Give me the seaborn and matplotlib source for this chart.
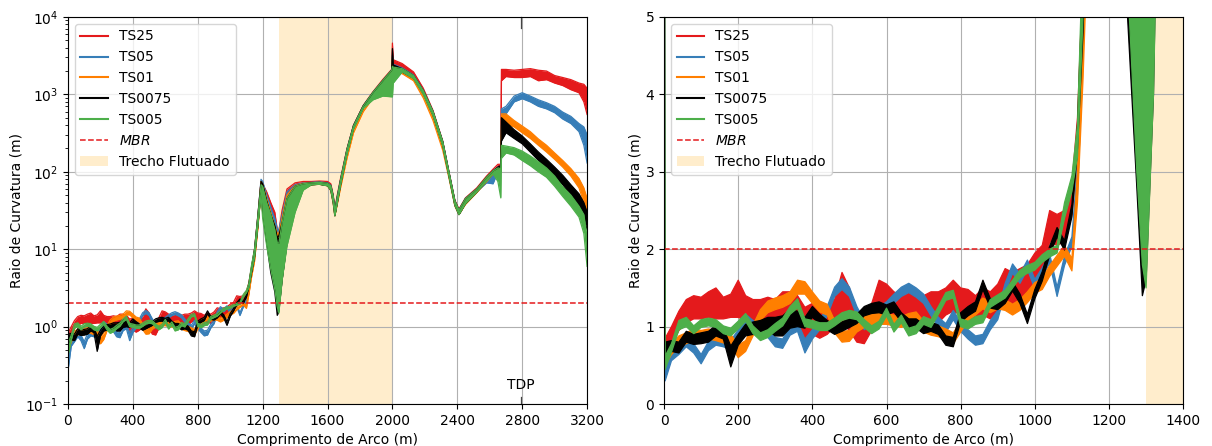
import matplotlib
matplotlib.use("Agg")
import matplotlib.pyplot as plt
from matplotlib.lines import Line2D
from matplotlib.patches import Patch
import numpy as np
import pandas as pd
import seaborn as sns

# ---------------- data ----------------
SERIES = ["TS25", "TS05", "TS01", "TS0075", "TS005"]
COLORS = ["#e41a1c", "#377eb8", "#ff7f00", "#000000", "#4daf4a"]

# arc-length positions, near part (0-1100 m)
X_NEAR = [0, 3] + list(range(20, 1101, 20))
# arc-length positions, far part (1115-3200 m)
X_FAR = [1115, 1130, 1150, 1170, 1190, 1200, 1225, 1250, 1275, 1290,
         1300, 1320, 1350, 1400, 1450, 1500, 1550, 1600, 1620, 1635,
         1645, 1660, 1680, 1720, 1760, 1820, 1880, 1940, 1995, 2000,
         2005, 2060, 2130, 2190, 2250, 2310, 2350, 2385, 2410, 2450,
         2520, 2580, 2620, 2650, 2668, 2672, 2700, 2750, 2800, 2850,
         2900, 2950, 3000, 3050, 3100, 3150, 3180, 3200]

# lower / upper envelope of each (noisy) curve, in metres
TS25_NEAR_LO = [0.6, 0.6, 0.75, 0.95, 1.05, 1.1, 1.1, 1.12, 1.1, 1.1, 1.12, 1.12, 1.08, 1.05, 1.05, 1.1, 1.05, 1.15, 1.15, 1.1,
                0.8, 0.9, 0.85, 0.9, 1.0, 1.05, 0.95, 0.8, 0.78, 0.95, 1.1, 1.1, 1.05, 1.1, 1.1, 1.1, 1.05, 1.1, 1.05, 1.15,
                1.2, 1.15, 1.1, 1.05, 1.15, 1.1, 1.2, 1.35, 1.3, 1.35, 1.35, 1.5, 1.6, 2.1, 2.05, 2.1, 2.45]
TS25_NEAR_HI = [0.8, 0.85, 1.0, 1.2, 1.35, 1.4, 1.38, 1.45, 1.5, 1.38, 1.42, 1.6, 1.4, 1.35, 1.35, 1.38, 1.35, 1.45, 1.45, 1.4,
                1.25, 1.3, 1.2, 1.25, 1.35, 1.7, 1.5, 1.1, 1.05, 1.3, 1.6, 1.55, 1.45, 1.4, 1.45, 1.45, 1.4, 1.45, 1.45, 1.5,
                1.6, 1.5, 1.48, 1.4, 1.5, 1.45, 1.55, 1.75, 1.7, 1.75, 1.8, 1.95, 2.05, 2.5, 2.45, 2.5, 2.85]
TS25_FAR_LO = [3.2, 4.8, 8, 20, 55, 40, 22, 14, 11, 10, 10, 12, 25, 50, 68, 70, 71, 69, 62, 42,
               28, 41, 70, 180, 370, 680, 1020, 1450, 1950, 2400, 2500, 2250, 1800, 1080, 560, 225, 88, 38, 29, 40,
               56, 78, 97, 105, 105, 1500, 1700, 1650, 1650, 1700, 1500, 1550, 1400, 1300, 1150, 1050, 800, 550]
TS25_FAR_HI = [3.7, 5.6, 10, 27, 75, 70, 55, 40, 30, 18, 17, 32, 60, 72, 75, 75, 76, 75, 70, 50,
               33, 50, 82, 200, 400, 720, 1080, 1550, 2100, 4600, 2800, 2500, 1950, 1200, 620, 250, 97, 43, 33, 46,
               62, 88, 108, 125, 125, 2100, 2100, 2050, 2100, 2150, 2050, 2000, 1750, 1650, 1550, 1400, 1350, 1200]

TS05_NEAR_LO = [0.3, 0.3, 0.56, 0.64, 0.74, 0.66, 0.52, 0.69, 0.76, 0.74, 0.7, 0.84, 1.04, 0.96, 0.89, 0.86, 0.74, 0.72, 0.89, 0.94,
                0.66, 0.84, 0.96, 1.14, 1.39, 1.48, 1.39, 1.14, 0.96, 1.04, 1.14, 1.2, 1.3, 1.39, 1.44, 1.38, 1.3, 1.14, 1.0, 0.92,
                1.09, 0.94, 0.84, 0.76, 0.78, 0.96, 1.09, 1.44, 1.69, 1.56, 1.74, 1.49, 1.64, 1.82, 1.39, 1.79, 2.04]
TS05_NEAR_HI = [0.5, 0.5, 0.68, 0.76, 0.86, 0.78, 0.64, 0.81, 0.88, 0.86, 0.82, 0.96, 1.16, 1.08, 1.01, 0.98, 0.86, 0.84, 1.01, 1.06,
                0.84, 0.96, 1.08, 1.26, 1.51, 1.62, 1.51, 1.26, 1.08, 1.16, 1.26, 1.32, 1.42, 1.51, 1.56, 1.5, 1.42, 1.26, 1.12, 1.04,
                1.21, 1.06, 0.96, 0.88, 0.9, 1.08, 1.21, 1.56, 1.81, 1.68, 1.86, 1.61, 1.76, 1.94, 1.51, 1.91, 2.16]
TS05_FAR_LO = [2.7, 4.5, 7.5, 20, 60, 35, 18, 9, 6, 5, 6, 8, 18, 40, 62, 69, 70, 67, 59, 41,
               28, 40, 66, 170, 360, 660, 990, 1400, 1900, 2000, 2150, 1950, 1620, 1030, 540, 220, 85, 37, 28, 39,
               55, 72, 70, 100, 105, 400, 560, 800, 880, 800, 700, 650, 580, 480, 420, 330, 220, 130]
TS05_FAR_HI = [3.1, 5.2, 9.5, 26, 80, 75, 50, 35, 25, 18, 18, 28, 55, 68, 72, 73, 74, 72, 67, 49,
               32, 48, 78, 195, 395, 710, 1060, 1500, 2050, 3200, 2450, 2200, 1780, 1130, 600, 245, 95, 42, 32, 45,
               60, 80, 103, 115, 120, 650, 700, 950, 1050, 950, 850, 780, 700, 590, 520, 420, 380, 300]

TS01_NEAR_LO = [0.5, 0.5, 0.64, 0.74, 0.78, 0.83, 0.82, 0.84, 0.82, 0.79, 0.76, 0.6, 0.68, 0.88, 1.08, 1.18, 1.22, 1.25, 1.3, 1.42,
                1.42, 1.3, 1.19, 1.15, 0.92, 0.8, 0.81, 0.93, 0.99, 1.03, 1.03, 1.03, 1.01, 0.99, 1.03, 1.05, 0.93, 0.89, 0.87, 0.83,
                0.78, 0.93, 1.08, 1.15, 1.23, 1.18, 1.23, 1.21, 1.15, 1.21, 1.31, 1.43, 1.48, 1.65, 1.78, 1.91, 1.72]
TS01_NEAR_HI = [0.7, 0.7, 0.78, 0.88, 0.92, 0.97, 0.95, 0.97, 0.95, 0.92, 0.9, 0.76, 0.82, 1.02, 1.22, 1.33, 1.37, 1.4, 1.45, 1.6,
                1.58, 1.45, 1.33, 1.29, 1.08, 0.94, 0.95, 1.07, 1.13, 1.17, 1.17, 1.17, 1.15, 1.13, 1.17, 1.19, 1.07, 1.03, 1.01, 0.97,
                0.92, 1.07, 1.22, 1.29, 1.37, 1.32, 1.37, 1.35, 1.29, 1.35, 1.45, 1.57, 1.62, 1.79, 1.92, 2.05, 1.88]
TS01_FAR_LO = [2.6, 4.2, 7, 18, 55, 30, 14, 7, 4, 3, 4, 6, 14, 35, 60, 68, 69, 66, 57, 39,
               27, 38, 62, 150, 320, 600, 900, 1300, 1800, 1900, 2000, 1850, 1500, 900, 460, 190, 80, 36, 28, 38,
               54, 75, 94, 100, 100, 300, 420, 380, 320, 270, 220, 180, 145, 115, 88, 62, 40, 22]
TS01_FAR_HI = [3.0, 5.0, 9, 24, 75, 70, 45, 30, 20, 16, 16, 25, 50, 66, 71, 72, 73, 70, 65, 47,
               30, 45, 72, 175, 350, 650, 980, 1400, 1950, 3000, 2300, 2100, 1700, 1050, 520, 215, 90, 41, 31, 43,
               58, 82, 101, 112, 118, 560, 560, 460, 390, 330, 265, 220, 175, 140, 110, 82, 62, 45]

TS0075_NEAR_LO = [0.6, 0.6, 0.68, 0.66, 0.8, 0.77, 0.78, 0.8, 0.88, 0.84, 0.48, 0.76, 0.88, 0.9, 0.92, 0.95, 0.88, 0.88, 0.98, 1.0,
                  0.98, 1.12, 1.04, 0.96, 0.9, 0.94, 0.99, 1.04, 1.14, 1.17, 1.18, 1.15, 1.19, 1.06, 0.98, 0.98, 0.91, 0.94, 0.9, 0.76,
                  0.74, 1.06, 1.14, 1.2, 1.48, 1.24, 1.22, 1.3, 1.46, 1.3, 1.04, 1.36, 1.59, 1.92, 2.16, 1.99, 2.42]
TS0075_NEAR_HI = [13.0, 0.8, 0.82, 0.8, 0.94, 0.9, 0.92, 0.94, 1.02, 0.98, 0.75, 0.9, 1.03, 1.06, 1.08, 1.12, 1.12, 1.14, 1.22, 1.2,
                  1.12, 1.26, 1.16, 1.08, 1.02, 1.06, 1.11, 1.16, 1.26, 1.3, 1.32, 1.28, 1.32, 1.18, 1.1, 1.1, 1.03, 1.06, 1.02, 0.88,
                  0.86, 1.18, 1.26, 1.32, 1.6, 1.36, 1.34, 1.42, 1.58, 1.42, 1.16, 1.48, 1.71, 2.04, 2.28, 2.11, 2.58]
TS0075_FAR_LO = [3.3, 4.8, 8, 20, 55, 30, 12, 5, 2.8, 1.4, 1.6, 4, 12, 32, 60, 68, 69, 66, 58, 40,
                 27, 40, 68, 175, 365, 670, 1000, 1400, 1900, 2000, 2100, 1950, 1620, 1030, 540, 220, 85, 37, 28, 39,
                 55, 77, 96, 103, 100, 250, 320, 270, 230, 180, 140, 110, 85, 68, 50, 35, 25, 18]
TS0075_FAR_HI = [3.6, 5.6, 10, 26, 75, 70, 42, 28, 20, 14, 15, 22, 45, 65, 70, 72, 73, 71, 66, 48,
                 31, 47, 78, 195, 395, 710, 1060, 1500, 2050, 3900, 2400, 2150, 1750, 1120, 600, 245, 95, 42, 32, 45,
                 60, 85, 103, 115, 120, 500, 440, 350, 290, 230, 180, 145, 115, 90, 68, 52, 40, 30]

TS005_NEAR_LO = [0.45, 0.45, 0.67, 0.96, 1.0, 0.91, 0.99, 1.01, 0.99, 0.91, 0.88, 0.97, 1.07, 0.91, 0.82, 0.86, 0.94, 1.01, 1.16, 1.24,
                 1.0, 0.98, 0.95, 0.95, 1.01, 1.08, 1.11, 1.09, 0.99, 0.91, 0.97, 1.14, 0.93, 1.05, 0.88, 0.91, 1.03, 0.99, 1.16, 1.34,
                 1.37, 1.0, 0.97, 1.03, 1.05, 1.25, 1.31, 1.37, 1.5, 1.63, 1.69, 1.73, 1.83, 1.9, 1.95, 2.4, 2.75]
TS005_NEAR_HI = [10.0, 0.62, 0.78, 1.08, 1.12, 1.01, 1.09, 1.11, 1.09, 1.01, 0.98, 1.07, 1.17, 1.01, 0.92, 0.96, 1.04, 1.11, 1.26, 1.36,
                 1.1, 1.08, 1.05, 1.05, 1.11, 1.18, 1.21, 1.19, 1.09, 1.01, 1.07, 1.24, 1.03, 1.15, 0.98, 1.01, 1.13, 1.09, 1.26, 1.44,
                 1.47, 1.1, 1.07, 1.13, 1.15, 1.35, 1.41, 1.47, 1.6, 1.73, 1.79, 1.83, 1.93, 2.0, 2.05, 2.6, 2.95]
TS005_FAR_LO = [3.2, 5.0, 8, 20, 50, 25, 11, 5.5, 3.0, 1.8, 1.5, 4, 11, 30, 58, 68, 69, 66, 58, 40,
                27, 40, 68, 170, 360, 660, 850, 950, 930, 930, 1400, 1950, 1600, 1000, 530, 215, 84, 37, 28, 39,
                55, 76, 95, 75, 46, 150, 175, 165, 140, 120, 100, 85, 65, 48, 36, 26, 16, 6]
TS005_FAR_HI = [3.6, 6.0, 10, 26, 68, 65, 40, 28, 18, 12, 12, 22, 45, 65, 70, 72, 73, 71, 66, 48,
                31, 47, 78, 195, 390, 705, 1060, 1500, 2050, 2300, 2250, 2150, 1750, 1120, 600, 245, 95, 42, 32, 45,
                60, 85, 103, 112, 110, 220, 215, 205, 185, 160, 135, 112, 88, 64, 50, 36, 28, 14]

MBR = 2.0
TDP_X = 2790
FLOAT_START, FLOAT_END = 1300, 2000

ENVELOPES = {
    "TS25": (TS25_NEAR_LO + TS25_FAR_LO, TS25_NEAR_HI + TS25_FAR_HI),
    "TS05": (TS05_NEAR_LO + TS05_FAR_LO, TS05_NEAR_HI + TS05_FAR_HI),
    "TS01": (TS01_NEAR_LO + TS01_FAR_LO, TS01_NEAR_HI + TS01_FAR_HI),
    "TS0075": (TS0075_NEAR_LO + TS0075_FAR_LO, TS0075_NEAR_HI + TS0075_FAR_HI),
    "TS005": (TS005_NEAR_LO + TS005_FAR_LO, TS005_NEAR_HI + TS005_FAR_HI),
}
X_ALL = X_NEAR + X_FAR
frames = []
for s in SERIES:
    lo, hi = ENVELOPES[s]
    frames.append(pd.DataFrame({"serie": s, "x": X_ALL, "lo": lo, "hi": hi}))
df = pd.concat(frames, ignore_index=True)

# ---------------- drawing ----------------
plt.rcParams["font.family"] = ["DejaVu Sans"]
plt.rcParams["font.size"] = 10

fig = plt.figure(figsize=(12.12, 4.46), dpi=100)
ax1 = fig.add_axes([0.0561, 0.094, 0.4283, 0.868])
ax2 = fig.add_axes([0.5479, 0.094, 0.4283, 0.868])
SHADE = dict(color="orange", alpha=0.2, lw=0, zorder=1)


def draw(ax, xmax, pad):
    ax.axvspan(FLOAT_START, min(FLOAT_END, xmax), **SHADE)
    for i, (s, c) in enumerate(zip(SERIES, COLORS)):
        sub = df[df["serie"] == s]
        ax.fill_between(sub["x"], sub["lo"], sub["hi"], color=c, lw=0, zorder=2 + i)
        sns.lineplot(data=sub, x="x", y="lo", color=c, lw=0.9, ax=ax,
                     estimator=None, zorder=2 + i, legend=False)
        sns.lineplot(data=sub, x="x", y="hi", color=c, lw=0.9, ax=ax,
                     estimator=None, zorder=2 + i, legend=False)
    ax.axhline(MBR, color="#e41a1c", ls="--", lw=1.1, zorder=10)
    ax.grid(True, color="#b0b0b0", lw=0.8)
    ax.set_axisbelow("line")
    ax.set_xlabel("Comprimento de Arco (m)")
    ax.set_ylabel("Raio de Curvatura (m)", labelpad=pad)
    for sp in ax.spines.values():
        sp.set_zorder(20)
    handles = [Line2D([0], [0], color=c, lw=1.5) for c in COLORS]
    handles.append(Line2D([0], [0], color="#e41a1c", ls="--", lw=1.1))
    handles.append(Patch(facecolor="orange", alpha=0.2))
    labels = SERIES + ["$MBR$", "Trecho Flutuado"]
    leg = ax.legend(handles, labels, loc="upper left", fontsize=10)
    leg.set_zorder(30)


draw(ax1, 3200, 1.2)
ax1.set_yscale("log")
ax1.set_xlim(0, 3200)
ax1.set_ylim(0.1, 1e4)
ax1.set_xticks(range(0, 3201, 400))
tr = ax1.get_xaxis_transform()
ax1.plot([TDP_X, TDP_X], [0, 0.019], transform=tr, color="#444444", lw=0.9, zorder=11, clip_on=False)
ax1.plot([TDP_X, TDP_X], [0.972, 1.0], transform=tr, color="#444444", lw=0.9, zorder=11, clip_on=False)
ax1.text(TDP_X, 0.03, "TDP", transform=tr, ha="center", va="bottom", fontsize=10, zorder=12)

draw(ax2, 1400, 2.0)
ax2.set_xlim(0, 1400)
ax2.set_ylim(0, 5)
ax2.set_xticks(range(0, 1401, 200))
ax2.set_yticks(range(0, 6))

fig.savefig("out.png", dpi=100)
